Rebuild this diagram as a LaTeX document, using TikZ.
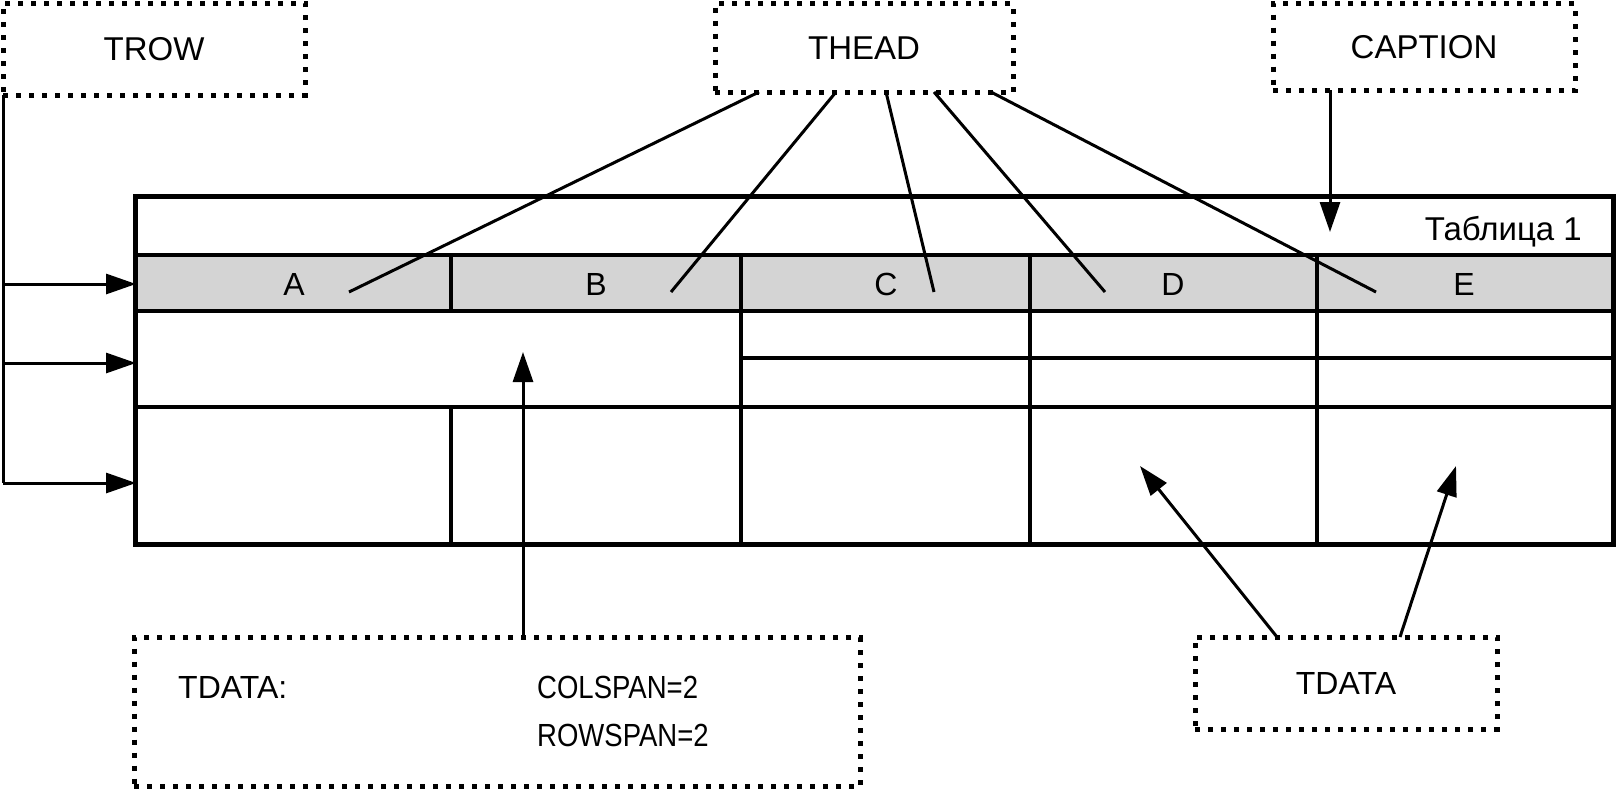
\documentclass[tikz,border=0pt]{standalone}
\usepackage{fontspec}
\setmainfont{Liberation Sans}
\newfontfamily\narrowfont[FakeStretch=0.86]{Liberation Sans}
\usetikzlibrary{arrows.meta}
\begin{document}
\begin{tikzpicture}[x=1pt,y=-1pt,
  dotbox/.style={draw, line width=5pt, dash pattern=on 5pt off 8pt, inner sep=0pt, font=\fontsize{33}{36}\selectfont},
  conn/.style={line width=3pt},
  arr/.style={line width=3pt, -{Triangle[length=30pt,width=20pt]}},
  tline/.style={line width=4pt},
  hlbl/.style={font=\fontsize{32}{34}\selectfont, inner sep=0pt},
  btxt/.style={font=\narrowfont\fontsize{32}{34}\selectfont, inner sep=0pt, anchor=west}]
\useasboundingbox (0,0) rectangle (1619,790);
% header fill
\fill[black!17] (135,255) rectangle (1613,311);
% table
\draw[line width=5pt] (135,196) rectangle (1613,544);
\draw[tline] (135,255) -- (1613,255);
\draw[tline] (135,311) -- (1613,311);
\draw[tline] (135,407) -- (1613,407);
\draw[tline] (741,358) -- (1613,358);
\draw[tline] (451,255) -- (451,311);
\draw[tline] (451,407) -- (451,544);
\draw[tline] (741,255) -- (741,544);
\draw[tline] (1030,255) -- (1030,544);
\draw[tline] (1317,255) -- (1317,544);
% texts in table
\node[font=\fontsize{33}{35}\selectfont, inner sep=0pt, anchor=base east] (cap) at (1582,240) {Таблица 1};
\node[hlbl] (la) at (294,284) {A};
\node[hlbl] (lb) at (596,284) {B};
\node[hlbl] (lc) at (886,284) {C};
\node[hlbl] (ld) at (1173,284) {D};
\node[hlbl] (le) at (1464,284) {E};
% boxes
\node[dotbox, minimum width=302pt, minimum height=92pt] (trow) at (154,49) {TROW};
\node[dotbox, minimum width=298pt, minimum height=89pt] (thead) at (864,48) {THEAD};
\node[dotbox, minimum width=302pt, minimum height=87pt] (caption) at (1424,47) {CAPTION};
\node[dotbox, minimum width=726pt, minimum height=149pt] (tdspan) at (497,712) {};
\node[dotbox, minimum width=302pt, minimum height=92pt, font=\fontsize{32}{34}\selectfont] (tdata) at (1346,683) {TDATA};
\node[btxt, font=\fontsize{32}{34}\selectfont] (t1) at (178,687) {TDATA:};
\node[btxt] (t2) at (537,687) {COLSPAN=2};
\node[btxt] (t3) at (537,735) {ROWSPAN=2};
% coordinates
\coordinate (r1) at (136,284);
\coordinate (r2) at (136,363);
\coordinate (r3) at (136,483);
\coordinate (h1) at (759,92);
\coordinate (h2) at (836,92);
\coordinate (h3) at (886,92);
\coordinate (h4) at (934,92);
\coordinate (h5) at (991,92);
\coordinate (e1) at (349,292);
\coordinate (e2) at (671,292);
\coordinate (e3) at (934,292);
\coordinate (e4) at (1105,292);
\coordinate (e5) at (1376,292);
\coordinate (cs) at (1330,90);
\coordinate (ce) at (1330,232);
\coordinate (ss) at (523,638);
\coordinate (se) at (523,352);
\coordinate (d1s) at (1277,637);
\coordinate (d1e) at (1140,466);
\coordinate (d2s) at (1400,637);
\coordinate (d2e) at (1456,466);
\coordinate (tv) at (3,95);
% connectors
\draw[conn] (tv) -- (tv |- r3);
\draw[arr] (tv |- r1) -- (r1);
\draw[arr] (tv |- r2) -- (r2);
\draw[arr] (tv |- r3) -- (r3);
\draw[conn] (h1) -- (e1);
\draw[conn] (h2) -- (e2);
\draw[conn] (h3) -- (e3);
\draw[conn] (h4) -- (e4);
\draw[conn] (h5) -- (e5);
\draw[arr] (cs) -- (ce);
\draw[arr] (ss) -- (se);
\draw[arr] (d1s) -- (d1e);
\draw[arr] (d2s) -- (d2e);
\end{tikzpicture}
\end{document}
